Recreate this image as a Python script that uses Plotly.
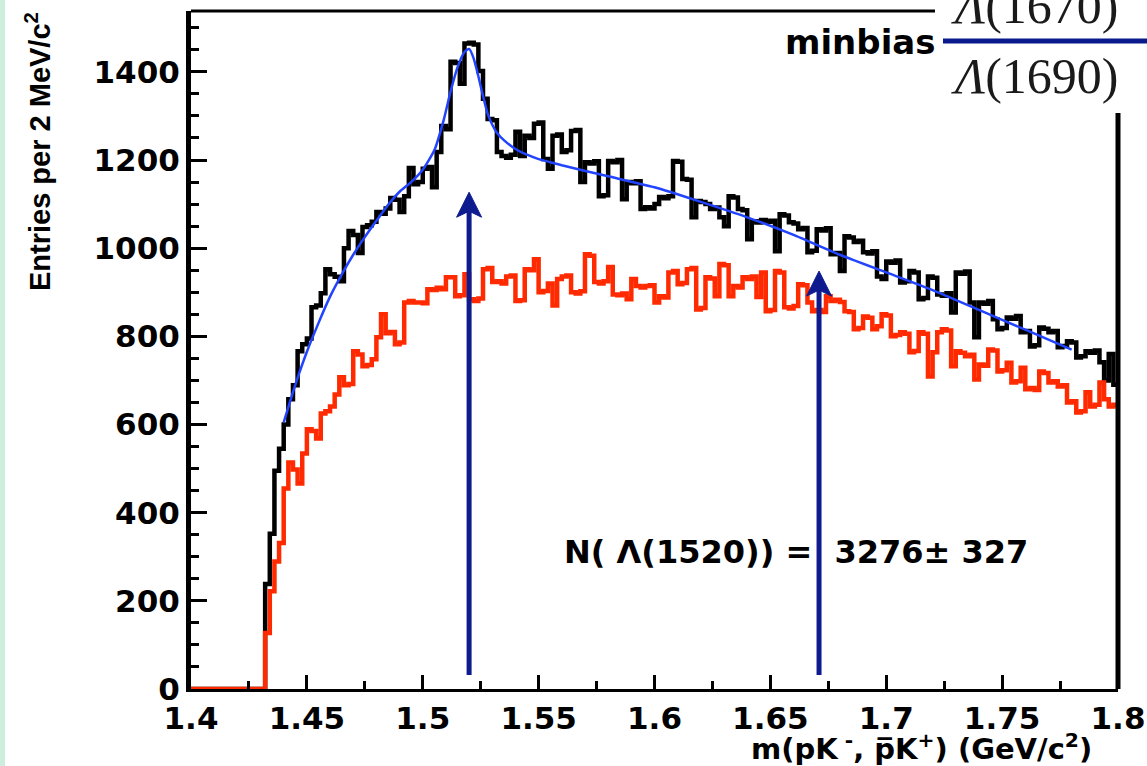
import numpy as np
import plotly.graph_objects as go

# ---------------- data ----------------
bin_start = 1.400
bin_width = 0.002
n_empty = 16  # empty bins below threshold (1.400 - 1.432)

same_event = [0] * n_empty + [
    238, 352, 495, 545, 600, 657, 689, 766, 782, 795,
    866, 870, 898, 952, 941, 935, 925, 1000, 1039, 1030,
    989, 1048, 1052, 1060, 1082, 1078, 1090, 1114, 1110, 1082,
    1118, 1182, 1145, 1150, 1180, 1184, 1138, 1218, 1277, 1270,
    1423, 1420, 1373, 1464, 1466, 1462, 1402, 1339, 1293, 1290,
    1218, 1209, 1205, 1212, 1264, 1209, 1255, 1250, 1282, 1285,
    1202, 1180, 1255, 1258, 1218, 1222, 1266, 1268, 1150, 1195,
    1192, 1197, 1118, 1120, 1198, 1195, 1200, 1111, 1150, 1147,
    1152, 1089, 1093, 1090, 1100, 1116, 1113, 1118, 1198, 1196,
    1157, 1155, 1070, 1107, 1105, 1100, 1089, 1092, 1070, 1050,
    1118, 1115, 1089, 1086, 1020, 1061, 1058, 1064, 1060, 1062,
    993, 1077, 1074, 1059, 1056, 1043, 1046, 991, 994, 1043,
    1040, 1045, 986, 989, 948, 1027, 1024, 1014, 1017, 991,
    988, 993, 936, 930, 970, 967, 972, 922, 925, 948,
    945, 884, 887, 936, 933, 895, 892, 898, 854, 945,
    942, 947, 877, 798, 877, 874, 880, 839, 816, 819,
    843, 840, 846, 809, 812, 777, 780, 820, 817, 809,
    812, 775, 778, 789, 786, 752, 755, 766, 763, 768,
    741, 700, 760, 690,
]

mixed_event = [0] * n_empty + [
    127, 222, 289, 331, 455, 514, 498, 466, 534, 589,
    585, 568, 625, 630, 641, 668, 707, 689, 692, 766,
    759, 732, 735, 748, 798, 850, 807, 810, 782, 786,
    877, 880, 877, 877, 875, 907, 905, 910, 907, 934,
    934, 891, 893, 941, 884, 880, 886, 952, 955, 923,
    925, 920, 936, 938, 880, 882, 952, 950, 975, 900,
    903, 920, 870, 930, 936, 938, 900, 897, 902, 986,
    983, 923, 920, 925, 957, 895, 893, 897, 884, 930,
    914, 911, 914, 916, 877, 891, 888, 945, 948, 918,
    921, 952, 955, 861, 864, 934, 931, 891, 964, 961,
    891, 914, 911, 934, 930, 936, 889, 945, 857, 860,
    948, 945, 866, 863, 869, 918, 916, 877, 857, 860,
    855, 891, 880, 883, 878, 857, 855, 816, 819, 845,
    842, 816, 823, 850, 847, 800, 803, 809, 806, 764,
    767, 809, 806, 709, 764, 809, 816, 813, 732, 766,
    763, 755, 758, 702, 736, 733, 770, 768, 720, 723,
    740, 695, 698, 729, 680, 683, 678, 720, 717, 695,
    698, 686, 689, 650, 653, 627, 630, 673, 641, 645,
    695, 657, 641, 645,
]

fit_x = [1.440, 1.445, 1.450, 1.455, 1.460, 1.465, 1.470, 1.475, 1.480, 1.485,
         1.490, 1.495, 1.500, 1.505, 1.509, 1.512, 1.515, 1.518, 1.520, 1.522,
         1.524, 1.526, 1.528, 1.530, 1.532, 1.535, 1.540, 1.545, 1.550, 1.555,
         1.560, 1.580, 1.600, 1.620, 1.640, 1.660, 1.680, 1.700, 1.720, 1.740,
         1.760, 1.780]
fit_y = [605, 690, 765, 830, 890, 940, 985, 1025, 1062, 1098,
         1128, 1150, 1178, 1222, 1290, 1355, 1410, 1445, 1452, 1430,
         1390, 1345, 1305, 1280, 1262, 1245, 1225, 1212, 1202, 1195,
         1188, 1163, 1138, 1105, 1070, 1030, 985, 945, 905, 860,
         815, 770]

arrow_x = [1.520, 1.671]
arrow_base = [32, 32]
arrow_tip = [1127, 948]

x_ticks = [1.4, 1.45, 1.5, 1.55, 1.6, 1.65, 1.7, 1.75, 1.8]
x_ticktext = ["1.4", "1.45", "1.5", "1.55", "1.6", "1.65", "1.7", "1.75", "1.8"]
y_ticks = [0, 200, 400, 600, 800, 1000, 1200, 1400]

# ---------------- figure ----------------
def step_xy(vals):
    edges = bin_start + bin_width * np.arange(len(vals) + 1)
    return edges, list(vals) + [vals[-1]]

fig = go.Figure()
bx, by = step_xy(same_event)
rx, ry = step_xy(mixed_event)
fig.add_trace(go.Scatter(x=bx, y=by, mode="lines", line=dict(color="#000000", width=4.5, shape="hv"),
                         hoverinfo="skip", showlegend=False))
fig.add_trace(go.Scatter(x=rx, y=ry, mode="lines", line=dict(color="#ff2a00", width=4.5, shape="hv"),
                         hoverinfo="skip", showlegend=False))
fig.add_trace(go.Scatter(x=fit_x, y=fit_y, mode="lines",
                         line=dict(color="#2244ff", width=2.5, shape="spline", smoothing=0.5),
                         hoverinfo="skip", showlegend=False))

L, R, T, B = 191, 29, 11, 77
W, H = 1147, 766
pw, ph = W - L - R, H - T - B

def px(xp):
    return (xp - L) / pw

def py(yp):
    return (H - B - yp) / ph

tickfont = dict(family="DejaVu Sans", size=31, color="#000", weight=700)
fig.update_xaxes(range=[1.4, 1.8], tickvals=x_ticks, ticktext=x_ticktext, ticks="inside",
                 ticklen=14, tickwidth=3, tickcolor="#000", showline=True, linewidth=3, linecolor="#000",
                 showgrid=False, zeroline=False, tickfont=tickfont, automargin=False,
                 minor=dict(dtick=0.025, tick0=1.4, ticks="inside", ticklen=8, tickwidth=3, tickcolor="#000"))
fig.update_yaxes(range=[0, 1538], tickvals=y_ticks, ticks="inside",
                 ticklen=16, tickwidth=3, tickcolor="#000", showline=True, linewidth=5, linecolor="#000",
                 showgrid=False, zeroline=False, tickfont=tickfont, automargin=False,
                 minor=dict(dtick=50, tick0=0, ticks="inside", ticklen=8, tickwidth=3, tickcolor="#000"))

shapes = []
# partial frame (top and right)
shapes.append(dict(type="line", xref="paper", yref="paper", x0=0, x1=px(935), y0=1, y1=1,
                   line=dict(color="#000", width=3)))
shapes.append(dict(type="line", xref="paper", yref="paper", x0=1, x1=1, y0=0, y1=py(113),
                   line=dict(color="#000", width=5)))
# arrows
for xa, yb, yt in zip(arrow_x, arrow_base, arrow_tip):
    shapes.append(dict(type="line", xref="x", yref="y", x0=xa, x1=xa, y0=yb, y1=yt - 40,
                       line=dict(color="#0d1b8e", width=5), layer="above"))
    shapes.append(dict(type="path", xref="x", yref="y", xsizemode="pixel", ysizemode="pixel",
                       xanchor=xa, yanchor=yt, path="M0,0 L-12.5,-25 L0,-19 L12.5,-25 Z",
                       fillcolor="#0d1b8e", line=dict(color="#0d1b8e", width=1), layer="above"))
# fraction bar
shapes.append(dict(type="line", xref="paper", yref="paper", x0=px(943), x1=px(1150), y0=py(41), y1=py(41),
                   line=dict(color="#0a1a8c", width=5)))
# pale green left strip
shapes.append(dict(type="rect", xref="paper", yref="paper", x0=px(0), x1=px(5), y0=py(H), y1=py(0),
                   fillcolor="#cdeedc", line=dict(width=0), layer="below"))

annotations = [
    dict(text="Entries per 2 MeV/c<sup>2</sup>", xref="paper", yref="paper", x=px(38), y=py(152),
         textangle=-90, showarrow=False, xanchor="center", yanchor="middle",
         font=dict(family="Liberation Sans", size=29, color="#000", weight=700)),
    dict(text="m(pK<sup> -</sup>, p\u0305K<sup>+</sup>) (GeV/c<sup>2</sup>)", xref="paper", yref="paper",
         x=px(1094), y=py(747), showarrow=False, xanchor="right", yanchor="middle",
         font=dict(family="DejaVu Sans", size=29, color="#000", weight=700)),
    dict(text="N( \u039b(1520)) =  3276\u00b1 327", xref="paper", yref="paper", x=px(796), y=py(552),
         showarrow=False, xanchor="center", yanchor="middle",
         font=dict(family="DejaVu Sans", size=32, color="#000", weight=700)),
    dict(text="minbias", xref="paper", yref="paper", x=px(783), y=py(42), showarrow=False,
         xanchor="left", yanchor="middle",
         font=dict(family="DejaVu Sans", size=34, color="#000", weight=700)),
    dict(text="<i>\u039b</i>(1670)", xref="paper", yref="paper", x=px(1035), y=py(6), showarrow=False,
         xanchor="center", yanchor="middle",
         font=dict(family="Liberation Serif", size=50, color="#1a1a1a")),
    dict(text="<i>\u039b</i>(1690)", xref="paper", yref="paper", x=px(1035), y=py(76), showarrow=False,
         xanchor="center", yanchor="middle",
         font=dict(family="Liberation Serif", size=50, color="#1a1a1a")),
]

fig.update_layout(width=W, height=H, margin=dict(l=L, r=R, t=T, b=B),
                  paper_bgcolor="#ffffff", plot_bgcolor="#ffffff",
                  shapes=shapes, annotations=annotations, showlegend=False)

fig.write_html("out.html")
